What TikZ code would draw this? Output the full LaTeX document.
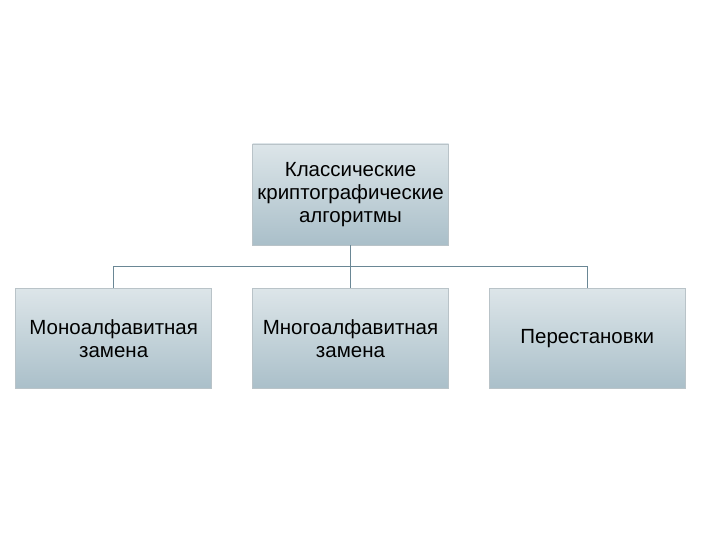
\documentclass[tikz,border=0pt]{standalone}
\usepackage{fontspec}
\setmainfont{Liberation Sans}
\usetikzlibrary{positioning, calc}
\definecolor{boxLow}{HTML}{9DB5C1}
\definecolor{boxMid}{HTML}{C8D6DC}
\definecolor{boxTop}{HTML}{F6F8F9}
\definecolor{boxEdge}{HTML}{B9C3C8}
\definecolor{linkLine}{HTML}{6A8795}
\pgfdeclareverticalshading{boxFade}{100bp}{
  color(0bp)=(boxLow!45!white);
  color(6bp)=(boxLow);
  color(12bp)=(boxLow);
  color(55bp)=(boxMid);
  color(100bp)=(boxTop)
}
\tikzset{
  category/.style = {
    draw=boxEdge,
    line width=0.8pt,
    rectangle,
    align=center,
    shading=boxFade,
    minimum width=196pt,
    minimum height=100pt,
    inner sep=1pt,
    font=\fontsize{20.5}{23}\selectfont,
  },
  link/.style = {
    draw=linkLine,
    line width=1pt,
  },
  node distance=43pt and 40pt,
}

\begin{document}
\begin{tikzpicture}[x=1pt, y=-1pt]
\useasboundingbox (0,0) rectangle (720,540);

\node(Classic)[category, minimum height=101pt] at (350.5,194.5)
  {Классические\\криптографические\\алгоритмы};

\node(Poly)[category, below=of Classic] {Многоалфавитная\\замена};
\node(Mono)[category, left=of Poly] {Моноалфавитная\\замена};
\node(Perm)[category, right=of Poly] {Перестановки};

\coordinate(Bus) at ($(Classic.south)!.5!(Poly.north)$);

\draw[link] (Classic) -- (Poly);
\draw[link] (Bus) -| (Mono);
\draw[link] (Bus) -| (Perm);

\end{tikzpicture}
\end{document}
